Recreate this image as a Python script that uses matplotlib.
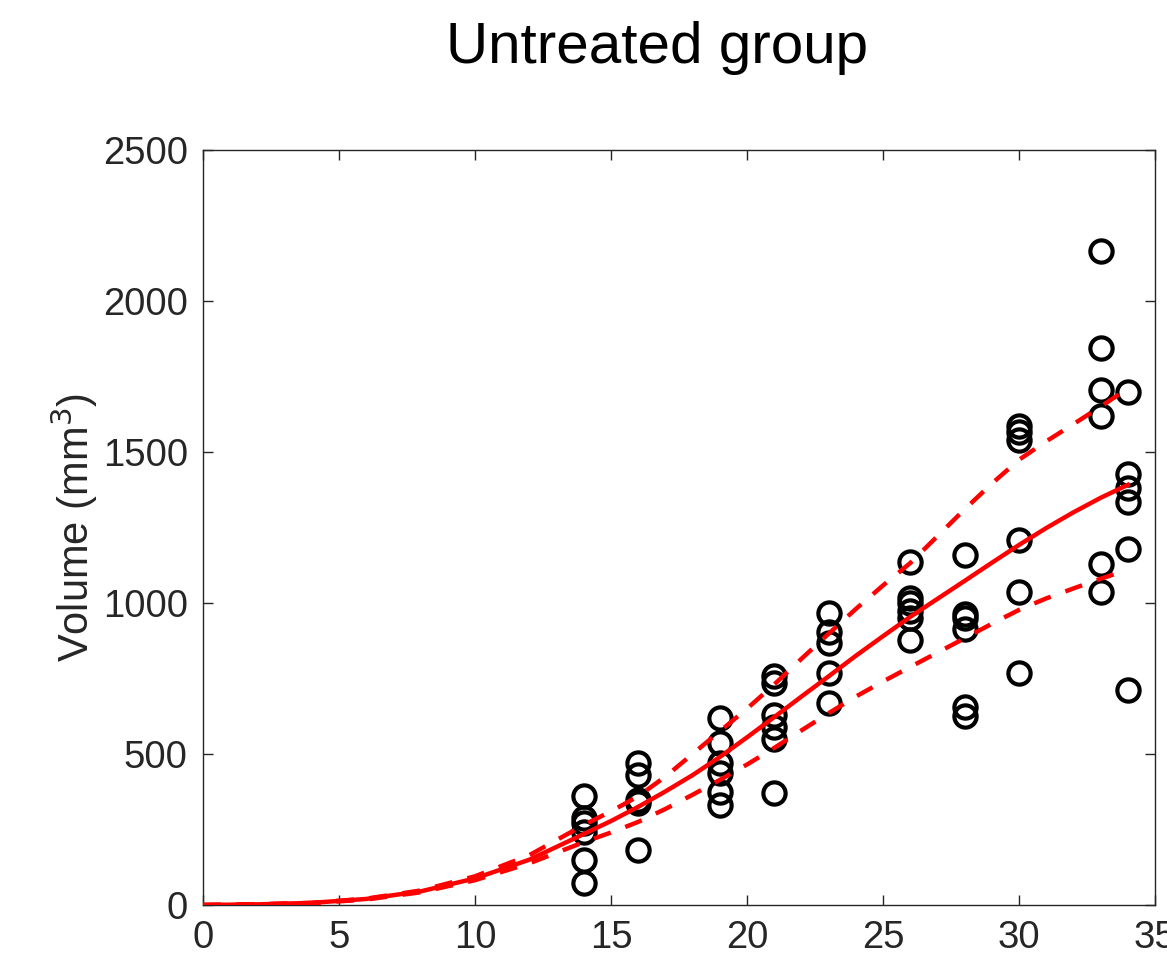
import matplotlib.pyplot as plt
import numpy as np

plt.rcParams['font.family'] = ['Liberation Sans', 'DejaVu Sans']

# measured tumour volumes (mm^3) per day
day_obs = [14] * 6 + [16] * 5 + [19] * 6 + [21] * 6 + [23] * 5 + [26] * 6 + \
          [28] * 6 + [30] * 6 + [33] * 6 + [34] * 6
vol_obs = [361, 288, 272, 242, 149, 73,
           470, 430, 348, 338, 182,
           619, 536, 470, 437, 375, 331,
           758, 735, 630, 590, 550, 370,
           967, 904, 868, 768, 669,
           1136, 1015, 1000, 975, 950, 877,
           1160, 965, 950, 915, 655, 625,
           1585, 1565, 1540, 1207, 1036, 768,
           2165, 1845, 1705, 1620, 1130, 1035,
           1697, 1428, 1381, 1334, 1180, 712]

# fitted mean and bounds
fit_day = [0, 2, 4, 6, 8, 10, 12, 14, 15, 16, 17, 18, 19, 20, 21, 22, 23, 24, 25,
           26, 28, 29, 30, 31, 32, 33, 34]
fit_mean = [0, 2, 7, 20, 45, 88, 150, 235, 278, 325, 376, 430, 490, 555, 622, 690,
            757, 825, 890, 954, 1073, 1133, 1192, 1248, 1300, 1348, 1391]
fit_upper = [0, 2, 7, 21, 48, 95, 165, 265, 310, 360, 425, 500, 575, 650, 730, 815,
             898, 980, 1058, 1132, 1310, 1395, 1474, 1535, 1592, 1650, 1710]
fit_lower = [0, 2, 6, 18, 42, 82, 138, 208, 240, 275, 318, 365, 414, 465, 520, 578,
             635, 690, 740, 788, 883, 931, 977, 1015, 1048, 1080, 1110]

fig = plt.figure(figsize=(11.67, 9.61), dpi=100)
ax = fig.add_axes([0.174, 0.0583, 0.8157, 0.7857])

ax.plot(day_obs, vol_obs, 'o', ms=16, mfc='none', mec='black', mew=3, zorder=3)
ax.plot(fit_day, fit_mean, '-', color='red', lw=3.2, zorder=4)
ax.plot(fit_day, fit_upper, '--', color='red', lw=3.2, dashes=(4, 3.5), zorder=4)
ax.plot(fit_day, fit_lower, '--', color='red', lw=3.2, dashes=(4, 3.5), zorder=4)

ax.set_xlim(0, 35)
ax.set_ylim(0, 2500)
ax.set_xticks(np.arange(0, 36, 5))
ax.set_yticks(np.arange(0, 2501, 500))
ax.tick_params(direction='in', length=7, width=1, colors='#262626', labelsize=27.5,
               top=True, right=True, pad=11)
for s in ax.spines.values():
    s.set_color('#262626')
    s.set_linewidth(1)

ax.set_ylabel('Volume (mm$^3$)', fontsize=30, color='#262626', labelpad=2)
fig.text(0.563, 0.95, 'Untreated group', fontsize=42, ha='center', va='center')

fig.savefig('out.png', dpi=100)
